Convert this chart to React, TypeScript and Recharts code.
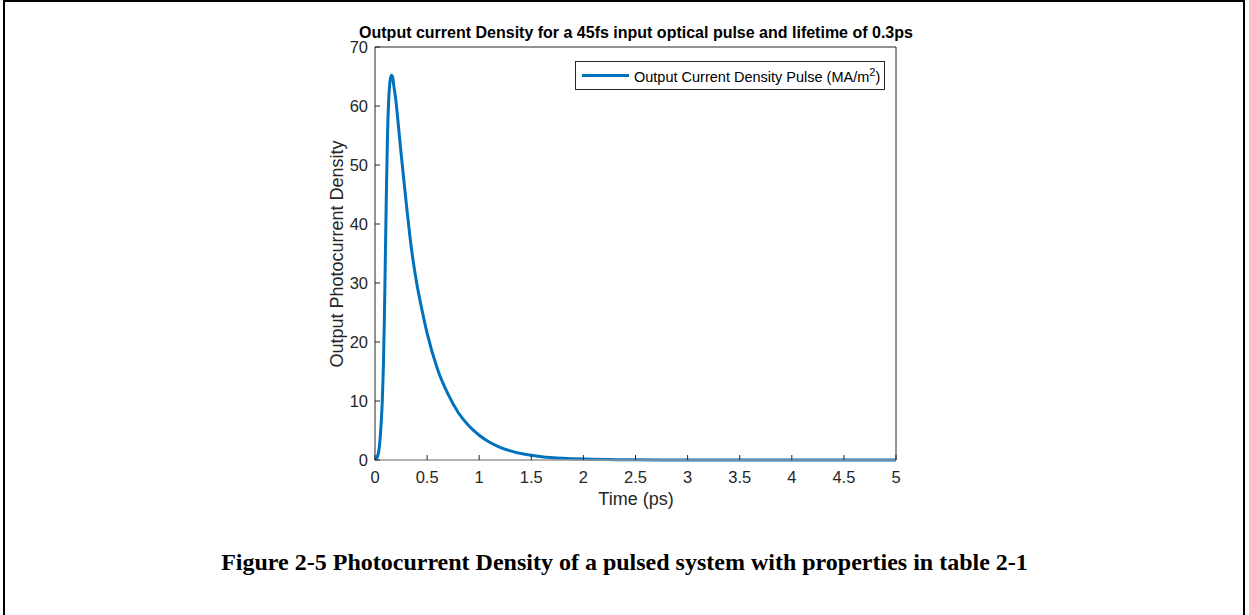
import { LineChart, Line, XAxis, YAxis } from "recharts";

// time (ps)
const time = [
  0, 0.02, 0.04, 0.05, 0.06, 0.07, 0.08, 0.09, 0.1, 0.11, 0.12, 0.13, 0.14, 0.15,
  0.16, 0.17, 0.18, 0.2, 0.22, 0.25, 0.3, 0.35, 0.4, 0.45, 0.5, 0.6, 0.7, 0.8,
  0.9, 1.0, 1.1, 1.2, 1.3, 1.4, 1.5, 1.6, 1.8, 2.0, 2.25, 2.5, 3, 3.5, 4, 4.5, 5,
];
// output current density (MA/m^2)
const density = [
  0, 0.4, 2.0, 3.8, 6.5, 10, 15.5, 24, 35, 46, 55, 60.5, 63.5, 64.8,
  65.2, 64.8, 63.5, 61, 57.5, 52, 43.5, 35.8, 30, 25.5, 21.5, 15.4, 11.2, 8.0,
  5.8, 4.2, 3.0, 2.15, 1.55, 1.1, 0.8, 0.57, 0.29, 0.15, 0.07, 0.03, 0.01, 0, 0, 0, 0,
];
const xTicks = [0, 0.5, 1, 1.5, 2, 2.5, 3, 3.5, 4, 4.5, 5];
const yTicks = [0, 10, 20, 30, 40, 50, 60, 70];

const data = time.map((t, i) => ({ t, y: density[i] }));

const FONT = "Liberation Sans, Arial, sans-serif";

function XTick(props: any) {
  const { x, y, payload } = props;
  return (
    <text x={x} y={y} dy="0.72em" textAnchor="middle" fontSize={16.5} fill="#262626" fontFamily={FONT}>
      {payload.value}
    </text>
  );
}

function YTick(props: any) {
  const { x, y, payload } = props;
  return (
    <text x={x} y={y} dy="0.36em" textAnchor="end" fontSize={16.5} fill="#262626" fontFamily={FONT}>
      {payload.value}
    </text>
  );
}

export default function App() {
  return (
    <div style={{ position: "absolute", left: 0, top: 0, width: 1249, height: 615, background: "#fff", fontFamily: FONT }}>
      <div
        style={{
          position: "absolute", left: 3, top: 0, width: 1238, height: 620,
          borderTop: "2px solid #000", borderLeft: "2px solid #000", borderRight: "2px solid #000",
        }}
      />
      <LineChart
        width={1249}
        height={615}
        data={data}
        margin={{ top: 46, right: 352, left: 315, bottom: 125 }}
        style={{ position: "absolute", left: 0, top: 0 }}
      >
        <XAxis
          dataKey="t"
          type="number"
          domain={[0, 5]}
          ticks={xTicks}
          height={30}
          tick={<XTick />}
          tickSize={-5}
          tickMargin={16}
          stroke="#262626"
          axisLine={{ stroke: "#999", strokeWidth: 1.5 }}
          tickLine={{ stroke: "#262626" }}
        />
        <XAxis
          xAxisId="top"
          orientation="top"
          dataKey="t"
          type="number"
          domain={[0, 5]}
          ticks={xTicks}
          height={1}
          tick={false}
          tickSize={-5}
          stroke="#262626"
        />
        <YAxis
          type="number"
          domain={[0, 70]}
          ticks={yTicks}
          width={60}
          tick={<YTick />}
          tickSize={-5}
          tickMargin={12}
          stroke="#262626"
        />
        <YAxis
          yAxisId="right"
          orientation="right"
          type="number"
          domain={[0, 70]}
          ticks={yTicks}
          width={1}
          tick={false}
          tickSize={-5}
          stroke="#262626"
        />
        <Line
          xAxisId="top"
          yAxisId="right"
          type="monotone"
          dataKey="y"
          stroke="none"
          dot={false}
          legendType="none"
          isAnimationActive={false}
        />
        <Line
          type="monotone"
          dataKey="y"
          stroke="#0072BD"
          strokeWidth={3}
          dot={false}
          isAnimationActive={false}
        />
      </LineChart>
      <div style={{ position: "absolute", left: 0, width: 1272, top: 24, textAlign: "center", fontWeight: "bold", fontSize: 16, color: "#000" }}>
        Output current Density for a 45fs input optical pulse and lifetime of 0.3ps
      </div>
      <div style={{ position: "absolute", left: 0, width: 1272, top: 489, textAlign: "center", fontSize: 18, color: "#262626" }}>
        Time (ps)
      </div>
      <div
        style={{
          position: "absolute", left: 337, top: 254, transform: "translate(-50%, -50%) rotate(-90deg)",
          whiteSpace: "nowrap", fontSize: 18, color: "#262626",
        }}
      >
        Output Photocurrent Density
      </div>
      <div
        style={{
          position: "absolute", left: 575, top: 61, width: 308, height: 27, border: "1px solid #262626",
          background: "#fff", display: "flex", alignItems: "center",
        }}
      >
        <div style={{ marginLeft: 6, width: 47, height: 3, background: "#0072BD" }} />
        <span style={{ marginLeft: 5, fontSize: 14.5, color: "#000", whiteSpace: "nowrap" }}>
          Output Current Density Pulse (MA/m<sup style={{ fontSize: 11 }}>2</sup>)
        </span>
      </div>
      <div
        style={{
          position: "absolute", left: 0, width: 1249, top: 549, textAlign: "center",
          fontFamily: "Liberation Serif, Times New Roman, serif", fontWeight: "bold", fontSize: 24, color: "#000",
        }}
      >
        Figure 2-5 Photocurrent Density of a pulsed system with properties in table 2-1
      </div>
    </div>
  );
}
